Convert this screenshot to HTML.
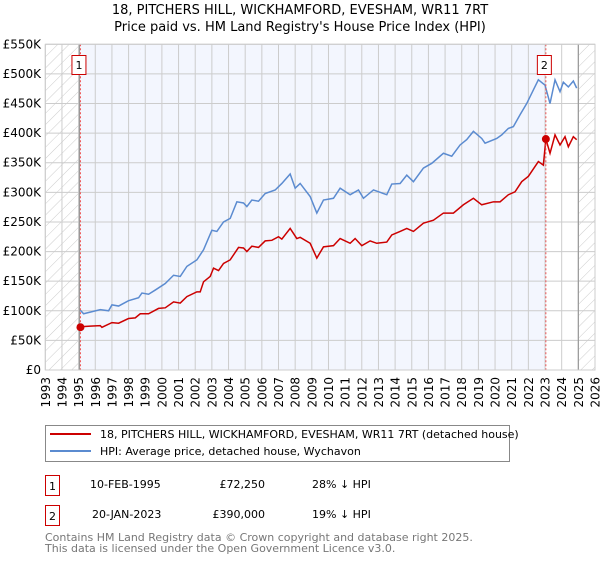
<!DOCTYPE html>
<html><head><meta charset="utf-8"><style>
body{margin:0;background:#fff;font-family:"Liberation Sans","DejaVu Sans",sans-serif;}
svg text{font-family:"DejaVu Sans","Liberation Sans",sans-serif;}
</style></head><body>
<svg id="chart" width="600" height="560" xmlns="http://www.w3.org/2000/svg">
<defs>
<pattern id="hatch" patternUnits="userSpaceOnUse" width="8" height="8" patternTransform="rotate(45)">
<line x1="0" y1="0" x2="0" y2="8" stroke="#ccc" stroke-width="1"/></pattern>
</defs>
<text x="300" y="14" font-size="13" text-anchor="middle">18, PITCHERS HILL, WICKHAMFORD, EVESHAM, WR11 7RT</text>
<text x="300" y="31" font-size="13" text-anchor="middle">Price paid vs. HM Land Registry's House Price Index (HPI)</text>
<g id="plot"></g>
<g>
<rect x="45.5" y="425.5" width="464" height="36" fill="#fff" stroke="#888"/>
<line x1="50" y1="434" x2="91" y2="434" stroke="#cc0000" stroke-width="2"/>
<text x="100" y="438" font-size="11">18, PITCHERS HILL, WICKHAMFORD, EVESHAM, WR11 7RT (detached house)</text>
<line x1="50" y1="451" x2="91" y2="451" stroke="#5b8bd0" stroke-width="2"/>
<text x="100" y="455" font-size="11">HPI: Average price, detached house, Wychavon</text>
</g>
<g font-size="11">
<rect x="45.5" y="475.5" width="14" height="20" fill="#fff" stroke="#cc0000"/>
<text x="52.5" y="490" text-anchor="middle">1</text>
<text x="90" y="488">10-FEB-1995</text>
<text x="265" y="488" text-anchor="end">£72,250</text>
<text x="312" y="488">28% ↓ HPI</text>
</g>
<g font-size="11">
<rect x="45.5" y="505.5" width="14" height="20" fill="#fff" stroke="#cc0000"/>
<text x="52.5" y="520" text-anchor="middle">2</text>
<text x="92" y="518">20-JAN-2023</text>
<text x="265" y="518" text-anchor="end">£390,000</text>
<text x="312" y="518">19% ↓ HPI</text>
</g>
<text x="45" y="541" font-size="11" fill="#777">Contains HM Land Registry data © Crown copyright and database right 2025.</text>
<text x="45" y="552" font-size="11" fill="#777">This data is licensed under the Open Government Licence v3.0.</text>
</svg>
<script>
const hpiYears=[1995.1,1995.3,1996.3,1996.8,1997.0,1997.4,1998.0,1998.6,1998.8,1999.2,1999.6,2000.2,2000.7,2001.1,2001.5,2002.1,2002.5,2003.0,2003.3,2003.7,2004.1,2004.5,2004.9,2005.1,2005.4,2005.8,2006.2,2006.8,2007.2,2007.7,2008.0,2008.3,2008.9,2009.3,2009.7,2010.3,2010.7,2011.3,2011.8,2012.1,2012.7,2013.1,2013.5,2013.8,2014.3,2014.7,2015.1,2015.7,2016.2,2016.9,2017.4,2017.9,2018.3,2018.7,2019.2,2019.4,2020.1,2020.4,2020.8,2021.1,2021.5,2021.9,2022.3,2022.6,2023.0,2023.3,2023.6,2023.9,2024.1,2024.4,2024.7,2024.9];
const hpiValues=[101,95,102,100,110,108,117,122,130,128,135,146,160,158,175,186,203,236,234,250,256,284,282,276,287,285,298,304,315,331,307,315,293,265,287,290,307,296,304,290,304,300,296,314,315,329,318,341,349,366,361,380,389,403,391,383,391,397,408,411,431,450,473,490,481,450,490,470,486,478,488,476];
const paidYears=[1995.1,1995.7,1996.3,1996.4,1997.0,1997.4,1998.0,1998.4,1998.7,1999.2,1999.8,2000.2,2000.7,2001.1,2001.5,2002.1,2002.3,2002.5,2002.9,2003.1,2003.4,2003.7,2004.1,2004.6,2004.9,2005.1,2005.4,2005.8,2006.2,2006.6,2007.0,2007.2,2007.7,2008.1,2008.3,2008.9,2009.3,2009.7,2010.3,2010.7,2011.3,2011.6,2012.0,2012.5,2012.9,2013.5,2013.8,2014.3,2014.7,2015.1,2015.7,2016.3,2016.9,2017.5,2018.1,2018.7,2019.2,2019.9,2020.3,2020.8,2021.2,2021.6,2022.0,2022.6,2022.9,2023.05,2023.3,2023.6,2023.9,2024.2,2024.4,2024.7,2024.9];
const paidValues=[73,74,75,72,80,79,87,88,95,95,104,105,115,113,124,132,132,149,158,172,168,180,186,207,206,200,209,207,218,219,225,221,239,222,224,214,189,208,210,222,214,222,210,218,214,216,228,234,239,234,248,253,265,265,279,290,279,284,284,296,301,318,327,352,346,390,366,397,380,394,377,394,389];
const sales=[{n:"1",year:1995.11,value:72.25},{n:"2",year:2023.05,value:390}];
const yTicks=[0,50,100,150,200,250,300,350,400,450,500,550];
const yTickLabels=["£0","£50K","£100K","£150K","£200K","£250K","£300K","£350K","£400K","£450K","£500K","£550K"];
const xTicks=[1993,1994,1995,1996,1997,1998,1999,2000,2001,2002,2003,2004,2005,2006,2007,2008,2009,2010,2011,2012,2013,2014,2015,2016,2017,2018,2019,2020,2021,2022,2023,2024,2025,2026];

const X0=45.3,X1=595,Y0=370,Y1=44.3;
const x=v=>X0+(v-1993)/33*(X1-X0);
const y=v=>Y0-v/550*(Y0-Y1);
const NS="http://www.w3.org/2000/svg";
const g=document.getElementById('plot');
function mk(t,a,p){const e=document.createElementNS(NS,t);for(const k in a)e.setAttribute(k,a[k]);(p||g).appendChild(e);return e;}

const hl=mk('rect',{x:X0,y:Y1,width:x(1995.11)-X0,height:Y0-Y1,fill:'url(#hatch)'});


const hr=mk('rect',{x:x(2025),y:Y1,width:X1-x(2025),height:Y0-Y1,fill:'url(#hatch)'});


const bg=mk('rect',{x:x(1995.11),y:Y1,width:x(2023.05)-x(1995.11),height:Y0-Y1,fill:'#f3f6fe'});



xTicks.forEach(t=>{
 const l=mk('line',{x1:x(t),x2:x(t),y1:Y1,y2:Y0,stroke:'#ccc','stroke-width':1});
 
 
 const tx=mk('text',{x:0,y:0,'font-size':12,'text-anchor':'end',transform:'translate('+(x(t)+4.5)+','+(Y0+7)+') rotate(-90)'});
 tx.textContent=t;
 
 
});
yTicks.forEach((t,i)=>{
 const l=mk('line',{x1:X0,x2:X1,y1:y(t),y2:y(t),stroke:'#ccc','stroke-width':1});
 
 
 const tx=mk('text',{x:41,y:y(t)+4,'font-size':12,'text-anchor':'end'});
 tx.textContent=yTickLabels[i];
 
 
});
const bl=mk('line',{x1:x(1995.05),x2:x(1995.05),y1:Y1,y2:Y0,stroke:'#999','stroke-width':1.2});


const el2=mk('line',{x1:x(2025),x2:x(2025),y1:Y1,y2:Y0,stroke:'#999','stroke-width':1.2});



const hp=mk('polyline',{points:hpiYears.map((t,i)=>x(t)+','+y(hpiValues[i])).join(' '),fill:'none',stroke:'#5b8bd0','stroke-width':1.5});


const pp=mk('polyline',{points:paidYears.map((t,i)=>x(t)+','+y(paidValues[i])).join(' '),fill:'none',stroke:'#cc0000','stroke-width':1.5});



sales.forEach(s=>{
 const vl=mk('line',{x1:x(s.year),x2:x(s.year),y1:Y1,y2:Y0,stroke:'#e55','stroke-width':1,'stroke-dasharray':'2,2'});
 
 
 const c=mk('circle',{cx:x(s.year),cy:y(s.value),r:4,fill:'#cc0000'});
 
 
 const b=mk('rect',{x:x(s.year)-8.5,y:55.5,width:14,height:19,fill:'#fff',stroke:'#cc0000'});
 
 
 const tx=mk('text',{x:x(s.year)-1.5,y:69,'font-size':11,'text-anchor':'middle'});
 tx.textContent=s.n;
 
 
});
const fr=mk('rect',{x:X0,y:Y1,width:X1-X0,height:Y0-Y1,fill:'none',stroke:'#ccc'});


</script>
</body></html>
